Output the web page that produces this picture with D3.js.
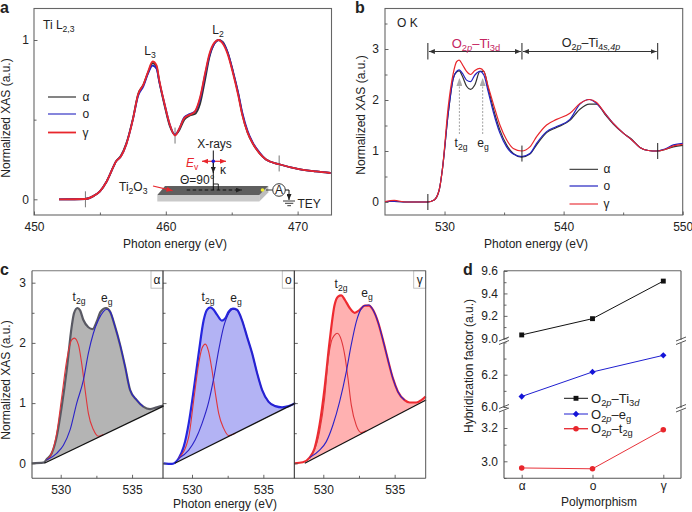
<!DOCTYPE html>
<html><head><meta charset="utf-8">
<script src="https://cdn.jsdelivr.net/npm/d3@7"></script>
<style>
html,body{margin:0;padding:0;background:#fff}
svg{display:block}
text{font-family:"Liberation Sans",Arial,sans-serif;fill:#222}
</style></head><body>
<svg id="c" width="692" height="512" xmlns="http://www.w3.org/2000/svg"></svg>
<script>
// ---------- Panel a data: Ti L2,3 ----------
const aE=[451.9,453.9,454.5,455,455.5,456,456.2,456.6,457,457.5,457.9,458.3,458.65,459,459.3,459.5,459.9,460.3,460.7,461,461.4,461.8,462.2,462.6,463,463.3,463.7,464,464.3,464.7,465.1,465.5,465.8,466.2,466.6,467.1,467.6,468.6,470.1,471.4,472.5];
const aGamma=[0,0.002,0.02,0.05,0.11,0.2,0.235,0.27,0.345,0.5,0.66,0.72,0.8,0.865,0.84,0.75,0.6,0.47,0.4,0.44,0.51,0.53,0.55,0.64,0.8,0.91,0.985,1,0.98,0.91,0.79,0.65,0.53,0.42,0.35,0.29,0.25,0.22,0.19,0.175,0.165];
const aO=[0,0.002,0.02,0.05,0.11,0.2,0.235,0.27,0.345,0.5,0.65,0.71,0.79,0.84,0.82,0.74,0.6,0.47,0.405,0.44,0.515,0.535,0.55,0.63,0.79,0.9,0.98,1,0.985,0.92,0.8,0.665,0.545,0.43,0.355,0.295,0.25,0.22,0.19,0.175,0.165];
const aAlpha=[0,0.002,0.02,0.05,0.11,0.2,0.235,0.275,0.35,0.505,0.66,0.72,0.795,0.855,0.83,0.74,0.59,0.46,0.405,0.43,0.5,0.525,0.535,0.6,0.76,0.89,0.98,1.0,0.99,0.92,0.8,0.66,0.535,0.42,0.35,0.29,0.25,0.22,0.19,0.175,0.165];
const aMarks=[[453.9,0],[460.7,0.4],[468.6,0.225]];

// ---------- Panel b data: O K ----------
const bE=[525,525.77,526.75,528.57,529.13,529.55,529.83,530.31,530.73,531.01,531.23,531.51,531.85,532.18,532.55,532.97,533.3,533.67,534.09,534.65,535.21,535.77,536.47,537.17,537.73,538.57,539.41,540.53,541.37,542.16,542.77,543.47,544.17,545.01,545.71,546.41,547.11,547.81,548.51,549.22,550];
const bGamma=[0.01,0.03,0,0,0.04,0.235,0.66,1.87,2.52,2.75,2.78,2.69,2.56,2.5,2.58,2.62,2.56,2.26,1.93,1.51,1.22,1.05,1,1.08,1.28,1.51,1.62,1.74,1.93,2.01,1.95,1.74,1.54,1.35,1.22,1.07,1.01,1,1.03,1.1,1.13];
const bO=[0.01,0.01,0,0,0.04,0.235,0.66,1.74,2.42,2.56,2.59,2.52,2.39,2.36,2.49,2.56,2.49,2.16,1.77,1.35,1.08,0.94,0.89,0.95,1.15,1.38,1.48,1.62,1.92,2.01,1.93,1.74,1.54,1.35,1.22,1.07,1.01,1,1.04,1.12,1.15];
const bAlpha=[0.01,0.01,0,0,0.04,0.235,0.66,1.74,2.42,2.55,2.57,2.46,2.27,2.21,2.3,2.56,2.56,2.23,1.84,1.41,1.12,0.95,0.88,0.94,1.12,1.36,1.46,1.6,1.82,1.92,1.92,1.72,1.53,1.35,1.23,1.07,1.01,1,1.03,1.08,1.11];
const bRegions=[528.6,536.5,547.9];
const bMarkLow=[0,0.95,1.0];

// ---------- Panel c data: peak fits ----------
const cAlphaE=[527.97,528.79,529.02,529.37,529.72,530.07,530.42,530.77,530.93,531.17,531.36,531.59,531.94,532.24,532.52,532.8,533.18,533.46,533.81,534.16,534.51,534.86,535.33,535.79,536.26,536.73,537.2];
const cAlphaV=[0,0.01,0.066,0.166,0.443,0.941,1.55,2.27,2.49,2.58,2.54,2.38,2.26,2.23,2.35,2.52,2.58,2.52,2.27,1.97,1.61,1.22,1.05,0.94,0.9,0.93,0.96];
const cAlphaT2gE=[529.02,529.37,529.72,530.07,530.42,530.77,530.96,531.24,531.47,531.71,531.94,532.29,532.64,532.99];
const cAlphaT2gV=[0.055,0.166,0.5,1.1,1.71,2.05,2.08,1.97,1.66,1.22,0.83,0.56,0.45,0.48];
const cAlphaEgE=[529.02,529.72,530.19,530.65,531.12,531.59,531.94,532.29,532.64,532.99,533.22,533.46,533.81,534.16,534.51,534.86,535.33,535.79];
const cAlphaEgV=[0.055,0.166,0.3,0.55,0.997,1.38,1.83,2.16,2.38,2.52,2.56,2.52,2.27,1.97,1.61,1.22,1.05,0.94];
const cAlphaBase=[528.85,0,537.2,0.95];

const cOE=[528.01,528.6,529.07,529.42,529.77,530.12,530.47,530.82,531.05,531.29,531.52,531.75,532.1,532.34,532.57,532.87,533.15,533.5,533.86,534.21,534.56,534.91,535.37,535.84,536.31,536.78,537.24];
const cOV=[0,-0.01,0.083,0.277,0.664,1.22,1.83,2.38,2.55,2.59,2.55,2.47,2.37,2.41,2.52,2.57,2.55,2.38,2.1,1.83,1.5,1.22,1.02,0.95,0.93,0.95,1];
const cOT2gE=[529.07,529.77,530.12,530.47,530.7,530.93,531.17,531.4,531.64,531.87,532.22,532.57,533.04];
const cOT2gV=[0.083,0.44,1.05,1.66,1.91,1.98,1.85,1.55,1.16,0.83,0.58,0.46,0.5];
const cOEgE=[529.07,529.77,530.23,530.7,531.17,531.52,531.87,532.22,532.57,532.87,533.15,533.5,533.86,534.21,534.56,534.91,535.37,535.84];
const cOEgV=[0.083,0.22,0.39,0.66,1.02,1.41,1.88,2.27,2.49,2.56,2.55,2.38,2.1,1.83,1.5,1.22,1.02,0.95];
const cOBase=[528.8,0,537.24,1];

const cGammaE=[527.99,528.57,529.04,529.39,529.74,530.09,530.44,530.79,531.03,531.26,531.5,531.85,532.2,532.55,532.9,533.2,533.48,533.83,534.18,534.53,534.88,535.23,535.7,536.05,536.52,536.87,537.17];
const cGammaV=[0,0.017,0.094,0.25,0.64,1.25,2.02,2.63,2.77,2.79,2.72,2.58,2.5,2.55,2.62,2.62,2.55,2.35,2.05,1.72,1.41,1.19,1.05,1.01,1.01,1.05,1.11];
const cGammaT2gE=[529.04,529.74,530.09,530.33,530.56,530.79,530.98,531.26,531.5,531.73,531.96,532.31,532.66,533.01];
const cGammaT2gV=[0.094,0.53,1.08,1.69,2.02,2.13,2.16,2.05,1.8,1.41,0.97,0.63,0.51,0.54];
const cGammaEgE=[529.04,529.74,530.21,530.68,531.14,531.61,531.96,532.31,532.66,532.9,533.2,533.48,533.83,534.18,534.53,534.88,535.23,535.7];
const cGammaEgV=[0.094,0.22,0.36,0.64,1.02,1.52,1.97,2.35,2.57,2.62,2.63,2.55,2.35,2.05,1.72,1.41,1.19,1.05];
const cGammaBase=[528.7,0,537.2,1.05];

// ---------- Panel d data ----------
const polymorphs=["α","o","γ"];
const hybTi3d=[9.03,9.175,9.51];
const hybEg=[6.065,6.217,6.32];
const hybT2g=[2.96,2.955,3.19];

const seriesNames=["α","o","γ"];
const colBlack="#333333", colBlue="#2323c0", colRed="#e8262c";

const svg=d3.select("#c");
const FS=12;

function rich(g,x,y,segs,opts={}){
  const t=g.append("text").attr("x",x).attr("y",y).attr("font-size",opts.size||FS)
    .attr("text-anchor",opts.anchor||"start");
  if(opts.fill) t.style("fill",opts.fill);
  if(opts.rotate) t.attr("transform",`rotate(${opts.rotate} ${x} ${y})`);
  let cur=0;
  segs.forEach(s=>{
    const [txt,kind]=Array.isArray(s)?s:[s,""];
    const sp=t.append("tspan").text(txt);
    if(kind.includes("i")) sp.attr("font-style","italic");
    let target=0;
    if(kind.includes("s")){target=3;sp.attr("font-size",(opts.size||FS)*0.72);}
    if(target!==cur){sp.attr("dy",target-cur);cur=target;}
    if(opts.fill) sp.style("fill",opts.fill);
  });
  return t;
}
function frame(g,x0,x1,y0,y1,stroke="#666"){
  g.append("rect").attr("x",x0).attr("y",y0).attr("width",x1-x0).attr("height",y1-y0)
   .attr("fill","none").attr("stroke",stroke).attr("stroke-width",1.1);
}
function styleAxis(sel,col="#555"){
  sel.select(".domain").remove();
  sel.selectAll("line").attr("stroke",col).attr("stroke-width",0.9);
  sel.selectAll("text").attr("font-size",FS).style("fill","#222").attr("font-family",'"Liberation Sans",Arial,sans-serif');
}
function bottomAxis(g,x,yPos,major,minor,fmt=d3.format("d"),pad=7){
  g.append("g").attr("transform",`translate(0,${yPos})`)
    .call(d3.axisBottom(x).tickValues(minor).tickSize(-2.5).tickFormat("")).call(styleAxis);
  g.append("g").attr("transform",`translate(0,${yPos})`)
    .call(d3.axisBottom(x).tickValues(major).tickSize(-3.5).tickPadding(pad).tickFormat(fmt)).call(styleAxis);
}
function leftAxis(g,y,xPos,major,minor,fmt=d3.format("d"),pad=5,labels=true){
  g.append("g").attr("transform",`translate(${xPos},0)`)
    .call(d3.axisLeft(y).tickValues(minor).tickSize(-2.5).tickFormat("")).call(styleAxis);
  g.append("g").attr("transform",`translate(${xPos},0)`)
    .call(d3.axisLeft(y).tickValues(major).tickSize(-3.5).tickPadding(pad).tickFormat(labels?fmt:"")).call(styleAxis);
}
function defsArrow(id,col,w=6,h=5){
  svg.append("defs").append("marker").attr("id",id).attr("viewBox",`0 0 ${w} ${h}`)
    .attr("refX",w).attr("refY",h/2).attr("markerWidth",w).attr("markerHeight",h)
    .attr("markerUnits","userSpaceOnUse").attr("orient","auto-start-reverse")
    .append("path").attr("d",`M0,0L${w},${h/2}L0,${h}Z`).attr("fill",col);
}
defsArrow("arK","#222");defsArrow("arG","#333",6,5);defsArrow("arR",colRed,6,5);defsArrow("arL","#aaa",8,6);
const line=(x,y)=>d3.line().x(d=>x(d[0])).y(d=>y(d[1])).curve(d3.curveMonotoneX);
const zip=(a,b)=>a.map((v,i)=>[v,b[i]]);
function seg(g,x1,y1,x2,y2,col="#222",w=1,extra={}){
  const l=g.append("line").attr("x1",x1).attr("y1",y1).attr("x2",x2).attr("y2",y2).attr("stroke",col).attr("stroke-width",w);
  Object.entries(extra).forEach(([k,v])=>l.attr(k,v));return l;
}

// ================= Panel a =================
{
  const g=svg.append("g");
  const x=d3.scaleLinear().domain([450,472.57]).range([34,331.5]);
  const y=d3.scaleLinear().domain([0,1]).range([199.3,40]);
  frame(g,34,331.5,8.5,215);
  bottomAxis(g,x,215,[450,460,470],[455,465]);
  leftAxis(g,y,34,[0,1],[0.5],d3.format("d"),5);
  const L=line(x,y);
  g.selectAll(".m").data(aMarks).join("line").attr("x1",d=>x(d[0])).attr("x2",d=>x(d[0]))
    .attr("y1",d=>y(d[1])-8).attr("y2",d=>y(d[1])+8).attr("stroke","#777").attr("stroke-width",1);
  [[aAlpha,colBlack,1.8],[aO,colBlue,1.8],[aGamma,colRed,1.8]].forEach(([v,c,w])=>
    g.append("path").attr("d",L(zip(aE,v))).attr("fill","none").attr("stroke",c).attr("stroke-width",w));
  rich(g,43,29,["Ti L",["2,3","s"]]);
  rich(g,150,55,["L",["3","s"]],{anchor:"middle"});
  rich(g,218,34,["L",["2","s"]],{anchor:"middle"});
  [[97,"#666",1.6],[114,colBlue,1.1],[132.5,colRed,1.8]].forEach(([ly,c,w],i)=>{
    seg(g,48,ly,76,ly,c,w);
    rich(g,82.5,ly+4,[seriesNames[i]]);
  });
  // inset sketch
  g.append("polygon").attr("points","157.3,195 259.3,195 259.3,201.5 157.3,201.5").attr("fill","#c9c9c9");
  g.append("polygon").attr("points","259.3,195 268.3,186 268.3,192.5 259.3,201.5").attr("fill","#bdbdbd");
  g.append("polygon").attr("points","165,186 268.3,186 259.3,195 157.3,195").attr("fill","#5f5f5f");
  seg(g,186.7,190,241.7,190,"#111",1.1,{"stroke-dasharray":"3.5 2.5","marker-end":"url(#arK)"});
  seg(g,153,186,172.5,190.7,colRed,1.2,{"marker-end":"url(#arR)"});
  seg(g,213.3,150.5,213.3,190,"#111",1);
  seg(g,213.3,161,213.3,173,"#111",1,{"marker-end":"url(#arK)"});
  seg(g,202,161.3,226,161.3,colRed,1.2,{"marker-start":"url(#arR)","marker-end":"url(#arR)"});
  g.append("circle").attr("cx",213.3).attr("cy",161.3).attr("r",1.8).attr("fill","#1a1ad0");
  g.append("path").attr("d","M213.3,184H218.3V190").attr("fill","none").attr("stroke","#111").attr("stroke-width",0.9);
  g.append("circle").attr("cx",262.5).attr("cy",190).attr("r",1.8).attr("fill","#f2ee30");
  seg(g,266,190,272.5,190,"#222",0.9);
  g.append("circle").attr("cx",279).attr("cy",190).attr("r",6.3).attr("fill","#fff").attr("stroke","#222").attr("stroke-width",0.9);
  rich(g,279,194.3,["A"],{anchor:"middle"});
  g.append("path").attr("d","M285.3,190H289V200").attr("fill","none").attr("stroke","#111").attr("stroke-width",1).attr("marker-end","url(#arK)");
  seg(g,283,201,295,201,"#222",0.9);seg(g,285,203.3,293.3,203.3,"#222",0.9);seg(g,287.3,205.7,291,205.7,"#222",0.9);
  rich(g,297.5,208,["TEY"]);
  rich(g,214.5,148,["X-rays"],{anchor:"middle"});
  rich(g,186,167,[["E","i"],["v","s"]],{fill:colRed});
  rich(g,220,174,["κ"]);
  rich(g,180,184,["Θ=90°"]);
  rich(g,119,191,["Ti",["2","s"],"O",["3","s"]]);
  rich(g,175,248,["Photon energy (eV)"],{anchor:"middle"});
  rich(g,10,118,["Normalized XAS (a.u.)"],{anchor:"middle",rotate:-90});
  g.append("text").attr("x",0).attr("y",13).attr("font-size",16).attr("font-weight","bold").text("a");
}

// ================= Panel b =================
{
  const g=svg.append("g");
  const x=d3.scaleLinear().domain([525,550]).range([385,682.7]);
  const y=d3.scaleLinear().domain([0,3]).range([202,49]);
  frame(g,385,682.7,8.5,215);
  bottomAxis(g,x,215,[530,540,550],[535,545]);
  leftAxis(g,y,385,[0,1,2,3],[0.5,1.5,2.5,3.5],d3.format("d"),6);
  const L=line(x,y);
  [[bAlpha,colBlack],[bO,colBlue],[bGamma,colRed]].forEach(([v,c])=>
    g.append("path").attr("d",L(zip(bE,v))).attr("fill","none").attr("stroke",c).attr("stroke-width",1.2));
  bRegions.forEach((e,i)=>{
    seg(g,x(e),43,x(e),59.5,"#222",1);
    seg(g,x(e),y(bMarkLow[i])-8,x(e),y(bMarkLow[i])+8,"#222",1);
  });
  seg(g,x(bRegions[0])+1,51.5,x(bRegions[1])-1,51.5,"#333",1,{"marker-start":"url(#arG)","marker-end":"url(#arG)"});
  seg(g,x(bRegions[1])+1,51.5,x(bRegions[2])-1,51.5,"#333",1,{"marker-start":"url(#arG)","marker-end":"url(#arG)"});
  rich(g,476,48,["O",["2","s"],["p","si"],"–Ti",["3d","s"]],{anchor:"middle",fill:"#c4245f",size:13});
  rich(g,591,47,["O",["2","s"],["p","si"],"–Ti",["4","s"],["s,4p","si"]],{anchor:"middle",size:12.5});
  rich(g,397,27,["O K"]);
  [531.25,533.2].forEach(e=>{
    seg(g,x(e),134,x(e),78,"#aaa",1.1,{"stroke-dasharray":"2 1.5","marker-end":"url(#arL)"});
  });
  rich(g,461,147,["t",["2g","s"]],{anchor:"middle"});
  rich(g,483,147,["e",["g","s"]],{anchor:"middle"});
  [[169.3,"#222",1],[186,colBlue,1.2],[204,colRed,1.1]].forEach(([ly,c,w],i)=>{
    seg(g,569.5,ly,598,ly,c,w);
    rich(g,603.5,ly+4,[seriesNames[i]]);
  });
  rich(g,536,248,["Photon energy (eV)"],{anchor:"middle"});
  rich(g,365,115,["Normalized XAS (a.u.)"],{anchor:"middle",rotate:-90});
  g.append("text").attr("x",355).attr("y",13).attr("font-size",16).attr("font-weight","bold").text("b");
}

// ================= Panel c =================
{
  const g=svg.append("g");
  const y=d3.scaleLinear().domain([0,3]).range([463.3,282.7]);
  const T=270.7,B=478.3;
  const panels=[
    {x0:32,x1:163,at530:60.7,E:cAlphaE,V:cAlphaV,tE:cAlphaT2gE,tV:cAlphaT2gV,eE:cAlphaEgE,eV:cAlphaEgV,base:cAlphaBase,fill:"#b4b4b4",stroke:"#595963",name:"α",
      lt:[79,301],le:[106.7,302]},
    {x0:163,x1:294.3,at530:192,E:cOE,V:cOV,tE:cOT2gE,tV:cOT2gV,eE:cOEgE,eV:cOEgV,base:cOBase,fill:"#b3b3f4",stroke:"#2626de",name:"o",
      lt:[208,301],le:[236,302]},
    {x0:294.3,x1:425.7,at530:323.3,E:cGammaE,V:cGammaV,tE:cGammaT2gE,tV:cGammaT2gV,eE:cGammaEgE,eV:cGammaEgV,base:cGammaBase,fill:"#ffb1b1",stroke:"#ee2a30",name:"γ",
      lt:[341,288],le:[367,297]}
  ];
  panels.forEach((p,i)=>{
    const x=d3.scaleLinear().domain([530,535]).range([p.at530,p.at530+71.35]);
    const L=line(x,y);
    const pg=g.append("g");
    const bx=e=>{const [e0,v0,e1,v1]=p.base;return e<=e0?0:v0+(e-e0)*(v1-v0)/(e1-e0);};
    const area=d3.area().x(d=>x(d[0])).y1(d=>y(d[1])).y0(d=>y(bx(d[0]))).curve(d3.curveMonotoneX);
    const pts=zip(p.E,p.V).filter(d=>d[0]>=p.base[0]-0.02);
    pg.append("path").attr("d",area(pts)).attr("fill",p.fill);
    pg.append("path").attr("d",L(zip(p.E,p.V))).attr("fill","none").attr("stroke",p.stroke).attr("stroke-width",2.2);
    pg.append("path").attr("d",L(zip(p.tE,p.tV))).attr("fill","none").attr("stroke","#e0353a").attr("stroke-width",1.1);
    pg.append("path").attr("d",L(zip(p.eE,p.eV))).attr("fill","none").attr("stroke","#2a22c8").attr("stroke-width",1.1);
    seg(pg,x(p.base[0]),y(p.base[1]),x(p.base[2]),y(p.base[3]),"#111",1.2);
    // ticks
    bottomAxis(pg,x,B,[530,535],[532.5]);
    leftAxis(pg,y,p.x0,[0,1,2,3],[0.5,1.5,2.5],d3.format("d"),6,i===0);
    rich(pg,p.lt[0],p.lt[1],["t",["2g","s"]],{anchor:"middle"});
    rich(pg,p.le[0],p.le[1],["e",["g","s"]],{anchor:"middle"});
    pg.append("rect").attr("x",p.x1-12).attr("y",T).attr("width",12).attr("height",17.5).attr("fill","#fff").attr("stroke","#bbb").attr("stroke-width",0.9);
    rich(pg,p.x1-6,T+13,[p.name],{anchor:"middle"});
  });
  seg(g,32,T,425.7,T,"#777",1.1);
  seg(g,32,B,425.7,B,"#555",1.1);
  seg(g,32,T,32,B,"#555",1.1);
  seg(g,163,T,163,B,"#222",1);
  seg(g,294.3,T,294.3,B,"#222",1);
  seg(g,425.7,T,425.7,B,"#555",1);
  rich(g,225,507.5,["Photon energy (eV)"],{anchor:"middle"});
  rich(g,10,380,["Normalized XAS (a.u.)"],{anchor:"middle",rotate:-90});
  g.append("text").attr("x",0).attr("y",275).attr("font-size",16).attr("font-weight","bold").text("c");
}

// ================= Panel d =================
{
  const g=svg.append("g");
  const x=d3.scalePoint().domain(polymorphs).range([521.7,663.3]);
  const yTop=d3.scaleLinear().domain([9.0,9.6]).range([338.3,271]);
  const yMid=d3.scaleLinear().domain([6.0,6.2]).range([407,374.7]);
  const yLow=d3.scaleLinear().domain([3.0,3.2]).range([461.3,428]);
  const L=504,R=681,T=270.7,B=478.3;
  seg(g,L,T,R,T,"#666",1.1);seg(g,L,B,R,B,"#555",1.1);
  [[T,340],[343,408],[410.5,B]].forEach(([a,b])=>{seg(g,L,a,L,b,"#555",1.1);seg(g,R,a,R,b,"#555",1.1);});
  leftAxis(g,yTop,L,[9.0,9.2,9.4,9.6],[9.1,9.3,9.5],d3.format(".1f"),6);
  leftAxis(g,yMid,L,[6.0,6.2],[6.1,6.3,6.4],d3.format(".1f"),6);
  leftAxis(g,yLow,L,[3.0,3.2],[3.1,2.9],d3.format(".1f"),6);
  g.append("g").attr("transform",`translate(0,${B})`)
    .call(d3.axisBottom(x).tickSize(-3.5).tickPadding(3.5)).call(styleAxis);
  // axis breaks
  [341.5,409].forEach(by=>[L,R].forEach(bx=>{
    seg(g,bx-5,by-0.5,bx+5,by-4.5,"#444",0.9);
    seg(g,bx-5,by+3,bx+5,by-1,"#444",0.9);
  }));
  const LL=(yS)=>d3.line().x(d=>x(d[0])).y(d=>yS(d[1]));
  const S=[
    {v:hybTi3d,y:yTop,c:"#111",sym:d3.symbolSquare,sz:24,fc:"#111",rot:0},
    {v:hybEg,y:yMid,c:"#1f1fd0",sym:d3.symbolSquare,sz:20,fc:"#1414d8",rot:45},
    {v:hybT2g,y:yLow,c:"#e8323a",sym:d3.symbolCircle,sz:24,fc:"#e8262c",rot:0}
  ];
  S.forEach(s=>{
    g.append("path").attr("d",LL(s.y)(zip(polymorphs,s.v))).attr("fill","none").attr("stroke",s.c).attr("stroke-width",1);
    g.selectAll(null).data(zip(polymorphs,s.v)).join("path")
      .attr("transform",d=>`translate(${x(d[0])},${s.y(d[1])}) rotate(${s.rot})`)
      .attr("d",d3.symbol().type(s.sym).size(s.sz)).attr("fill",s.fc);
  });
  const legY=[398.3,414,428.7];
  const legT=[["O",["2","s"],["p","si"],"–Ti",["3","s"],["d","si"]],["O",["2","s"],["p","si"],"–e",["g","s"]],["O",["2","s"],["p","si"],"–t",["2g","s"]]];
  S.forEach((s,i)=>{
    seg(g,564,legY[i],588,legY[i],s.c,i===2?1.4:1);
    g.append("path").attr("transform",`translate(576,${legY[i]}) rotate(${s.rot})`).attr("d",d3.symbol().type(s.sym).size(s.sz)).attr("fill",s.fc);
    rich(g,591,legY[i]+4.5,legT[i],{size:13});
  });
  rich(g,599,506,["Polymorphism"],{anchor:"middle"});
  rich(g,473,366,["Hybridization factor (a.u.)"],{anchor:"middle",rotate:-90});
  g.append("text").attr("x",463).attr("y",275).attr("font-size",16).attr("font-weight","bold").text("d");
}
</script>
</body></html>
